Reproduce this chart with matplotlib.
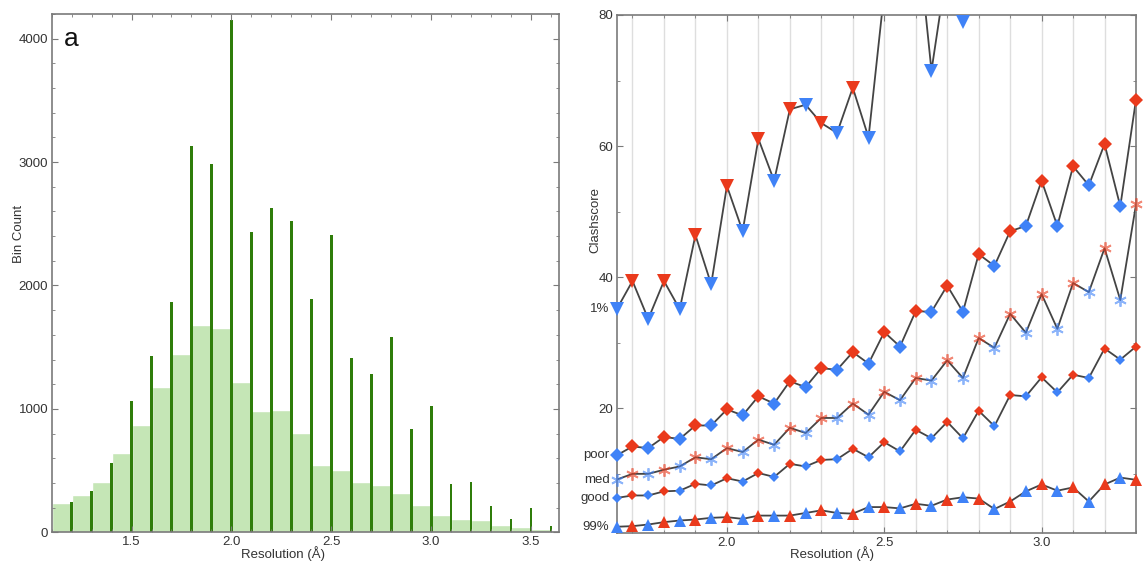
#!/usr/bin/env python3
"""Resolution histogram and clashscore percentile curves vs resolution."""

from __future__ import annotations

import numpy as np
import matplotlib

matplotlib.use("Agg")
import matplotlib.pyplot as plt
from matplotlib.ticker import FormatStrFormatter, MultipleLocator

plt.rcParams["font.family"] = ["Liberation Sans", "DejaVu Sans"]

# --- panel a: resolution histogram -------------------------------------
BIN_LEFT = [1.1, 1.2, 1.3, 1.4, 1.5, 1.6, 1.7, 1.8, 1.9, 2.0, 2.1, 2.2, 2.3,
            2.4, 2.5, 2.6, 2.7, 2.8, 2.9, 3.0, 3.1, 3.2, 3.3, 3.4, 3.5]
BIN_COUNT = [240, 303, 411, 640, 873, 1181, 1446, 1681, 1657, 1219, 986, 989,
             803, 546, 505, 411, 381, 322, 222, 138, 111, 100, 57, 43, 30]

# counts at exactly-reported resolutions (x.x0 values)
EXACT_RES = [1.2, 1.3, 1.4, 1.5, 1.6, 1.7, 1.8, 1.9, 2.0, 2.1, 2.2, 2.3, 2.4,
             2.5, 2.6, 2.7, 2.8, 2.9, 3.0, 3.1, 3.2, 3.3, 3.4, 3.5, 3.6]
EXACT_COUNT = [243, 338, 565, 1065, 1427, 1868, 3127, 2986, 4149, 2432, 2630,
               2519, 1892, 2411, 1411, 1281, 1581, 841, 1024, 395, 411, 216,
               105, 197, 54]

# --- panel b: clashscore percentiles -------------------------------------
RES = [1.65, 1.70, 1.75, 1.80, 1.85, 1.90, 1.95, 2.00, 2.05, 2.10, 2.15, 2.20,
       2.25, 2.30, 2.35, 2.40, 2.45, 2.50, 2.55, 2.60, 2.65, 2.70, 2.75, 2.80,
       2.85, 2.90, 2.95, 3.00, 3.05, 3.10, 3.15, 3.20, 3.25, 3.30]

P1 = [35.1, 39.4, 33.6, 39.4, 35.1, 46.4, 38.9, 53.9, 47.0, 61.1, 54.7, 65.6,
      66.3, 63.5, 62.0, 68.9, 61.3, 83.5, 88.0, 95.0, 71.5, 87.5, 79.0]
POOR = [12.8, 14.15, 13.9, 15.6, 15.3, 17.35, 17.35, 19.8, 18.9, 21.8, 20.7,
        24.1, 23.2, 26.1, 25.85, 28.55, 26.8, 31.6, 29.4, 34.8, 34.7, 38.7,
        34.7, 43.5, 41.7, 47.0, 47.8, 54.7, 47.8, 56.9, 54.0, 60.3, 50.8, 67.1]
MED = [9.1, 9.97, 9.97, 10.6, 11.1, 12.5, 12.2, 13.9, 13.3, 15.2, 14.4, 17.0,
       16.2, 18.5, 18.5, 20.7, 19.0, 22.5, 21.2, 24.6, 24.2, 27.3, 24.6, 30.7,
       29.2, 34.4, 31.5, 37.4, 32.1, 39.1, 37.7, 44.4, 36.5, 51.1]
GOOD = [6.3, 6.67, 6.67, 7.3, 7.4, 8.45, 8.2, 9.3, 8.8, 10.1, 9.5, 11.5, 11.1,
        12.1, 12.2, 13.8, 12.5, 14.8, 13.4, 16.7, 15.4, 17.9, 15.4, 19.6,
        17.25, 22.0, 21.8, 24.7, 22.4, 25.1, 24.6, 29.1, 27.4, 29.4]
P99 = [1.9, 1.99, 2.24, 2.6, 2.85, 3.0, 3.26, 3.36, 3.1, 3.6, 3.6, 3.6, 4.0,
       4.4, 4.0, 3.9, 4.9, 4.9, 4.7, 5.4, 5.1, 6.05, 6.4, 6.2, 4.6, 5.75, 7.3,
       8.35, 7.4, 7.9, 5.75, 8.35, 9.4, 9.06]

# label, values, marker, size, edge width, alpha
SERIES = [
    ("1%", P1, "v", 10, 0, 1.0),
    ("poor", POOR, "D", 7.5, 0, 1.0),
    ("med", MED, (6, 2, 0), 9, 1.3, 0.6),
    ("good", GOOD, "D", 5, 0, 1.0),
    ("99%", P99, "^", 8, 0, 1.0),
]

RED = "#ea3a1c"
BLUE = "#3f82f7"
LIGHT_GREEN = "#c5e6b6"
DARK_GREEN = "#2f7d0a"
SPINE = "#7a7a7a"
TEXT = "#333333"


def style_axes(ax):
    for spine in ax.spines.values():
        spine.set_color(SPINE)
        spine.set_linewidth(1.2)
    ax.tick_params(which="both", direction="in", top=True, right=True,
                   colors=SPINE, labelcolor=TEXT, labelsize=9.5, pad=2.5)
    ax.tick_params(which="major", length=4)
    ax.tick_params(which="minor", length=2.5)


def draw_histogram(ax):
    ax.bar(BIN_LEFT, BIN_COUNT, width=0.1, align="edge", color=LIGHT_GREEN,
           edgecolor="white", linewidth=1.0)
    ax.bar(EXACT_RES, EXACT_COUNT, width=0.014, color=DARK_GREEN, linewidth=0)
    ax.set_xlim(1.1, 3.64)
    ax.set_ylim(0, 4200)
    ax.xaxis.set_major_locator(MultipleLocator(0.5))
    ax.xaxis.set_minor_locator(MultipleLocator(0.1))
    ax.yaxis.set_major_locator(MultipleLocator(1000))
    ax.yaxis.set_minor_locator(MultipleLocator(200))
    ax.xaxis.set_major_formatter(FormatStrFormatter("%.1f"))
    style_axes(ax)
    ax.set_xlabel("Resolution (Å)", fontsize=9.5, color=TEXT)
    ax.set_ylabel("Bin Count", fontsize=9.5, color=TEXT)
    ax.xaxis.set_label_coords(0.456, -0.026)
    ax.yaxis.set_label_coords(-0.053, 0.575)
    ax.text(0.025, 0.975, "a", transform=ax.transAxes, fontsize=19,
            va="top", ha="left", color="#111111")


def draw_clashscore(ax):
    x = np.array(RES)
    for label, values, marker, size, mew, alpha in SERIES:
        vals = np.array(values)
        xs = x[: len(vals)]
        ax.plot(xs, vals, color="#444444", linewidth=1.3, zorder=2)
        is_red = np.isclose((xs * 100).round() % 10, 0)
        for mask, color in [(is_red, RED), (~is_red, BLUE)]:
            ax.plot(xs[mask], vals[mask], linestyle="none", marker=marker,
                    markersize=size, color=color, markeredgewidth=mew,
                    markeredgecolor=color, alpha=alpha, zorder=3,
                    clip_on=False)
        ax.text(-0.014, vals[0], label, transform=ax.get_yaxis_transform(),
                ha="right", va="center", fontsize=9.5, color=TEXT)
    ax.set_xlim(1.65, 3.3)
    ax.set_ylim(0.9, 80)
    ax.xaxis.set_major_locator(MultipleLocator(0.5))
    ax.xaxis.set_minor_locator(MultipleLocator(0.1))
    ax.yaxis.set_major_locator(MultipleLocator(20))
    ax.yaxis.set_minor_locator(MultipleLocator(10))
    ax.xaxis.set_major_formatter(FormatStrFormatter("%.1f"))
    ax.grid(axis="x", which="both", color="#dedede", linewidth=1.0)
    ax.set_axisbelow(True)
    style_axes(ax)
    ax.set_xlabel("Resolution (Å)", fontsize=9.5, color=TEXT)
    ax.set_ylabel("Clashscore", fontsize=9.5, color=TEXT)
    ax.xaxis.set_label_coords(0.415, -0.025)
    ax.yaxis.set_label_coords(-0.030, 0.604)


def main() -> None:
    fig = plt.figure(figsize=(11.43, 5.61), dpi=100)
    ax_a = fig.add_axes([0.0452, 0.0512, 0.4438, 0.9238])
    ax_b = fig.add_axes([0.5396, 0.0494, 0.4543, 0.9239])
    draw_histogram(ax_a)
    draw_clashscore(ax_b)
    fig.savefig("out.png", dpi=100)
    plt.close(fig)


if __name__ == "__main__":
    main()
